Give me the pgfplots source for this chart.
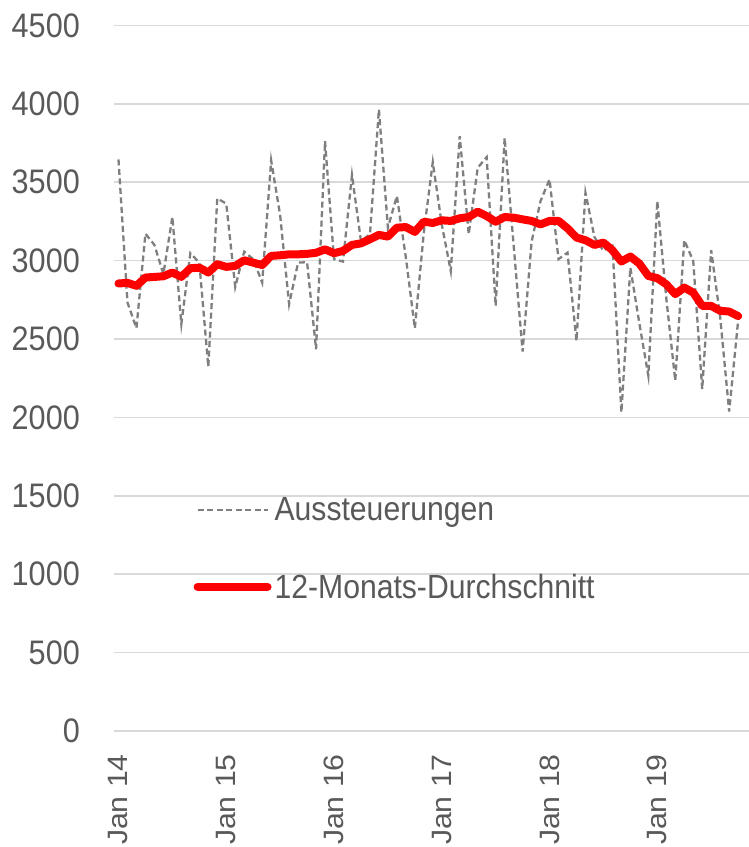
\documentclass[border=0pt]{standalone}
\usepackage{fontspec}
\setmainfont{Liberation Sans}[FakeStretch=0.9]
\newfontfamily\xlabfont{Liberation Sans}[FakeStretch=1.08]
\usepackage{pgfplots}
\pgfplotsset{compat=1.18}
\usepackage{pgfplotstable}
\definecolor{gridgray}{HTML}{D9D9D9}
\definecolor{textgray}{HTML}{595959}
\definecolor{dashgray}{HTML}{7F7F7F}
\pgfplotstableread{
i v
0 3645
1 2733
2 2569
3 3172
4 3100
5 2915
6 3278
7 2595
8 3047
9 2987
10 2323
11 3397
12 3363
13 2832
14 3057
15 3009
16 2860
17 3639
18 3290
19 2722
20 2987
21 2990
22 2435
23 3762
24 3009
25 2994
26 3546
27 3125
28 3168
29 3964
30 3210
31 3412
32 3020
33 2569
34 3180
35 3628
36 3230
37 2934
38 3794
39 3168
40 3592
41 3660
42 2711
43 3783
44 3100
45 2420
46 3120
47 3380
48 3518
49 3009
50 3051
51 2488
52 3433
53 3150
54 3062
55 3104
56 2032
57 2955
58 2600
59 2266
60 3380
61 2760
62 2234
63 3130
64 2998
65 2181
66 3066
67 2640
68 2038
69 2616
}\aussteuer
\pgfplotstableread{
i v
0 2854
1 2858
2 2839
3 2892
4 2896
5 2900
6 2924
7 2896
8 2951
9 2955
10 2924
11 2977
12 2960
13 2966
14 3002
15 2987
16 2972
17 3030
18 3034
19 3040
20 3040
21 3043
22 3050
23 3072
24 3047
25 3062
26 3100
27 3110
28 3136
29 3164
30 3153
31 3210
32 3214
33 3183
34 3248
35 3240
36 3257
37 3253
38 3270
39 3278
40 3312
41 3284
42 3248
43 3278
44 3274
45 3263
46 3253
47 3231
48 3253
49 3253
50 3206
51 3147
52 3130
53 3100
54 3115
55 3066
56 2994
57 3026
58 2981
59 2902
60 2888
61 2849
62 2786
63 2828
64 2796
65 2711
66 2711
67 2680
68 2675
69 2646
}\durchschnitt
\begin{document}
\begin{tikzpicture}
\useasboundingbox (-114pt,-116pt) rectangle (635pt,731pt);
\begin{axis}[
  at={(0pt,0pt)}, anchor=south west,
  scale only axis, width=635pt, height=705.6pt,
  xmin=-0.5, xmax=70.21, ymin=0, ymax=4500,
  axis line style={draw=none},
  ytick={0,500,...,4500},
  ymajorgrids,
  major grid style={draw=gridgray, line width=1.5pt},
  ytick style={draw=none},
  xtick={0,12,24,36,48,60},
  xticklabels={Jan 14,Jan 15,Jan 16,Jan 17,Jan 18,Jan 19},
  xtick style={draw=none},
  extra x ticks={-0.5,11.5,23.5,35.5,47.5,59.5},
  extra x tick labels={},
  extra x tick style={tick align=outside, major tick length=10pt,
    tick style={draw=gridgray, line width=1.5pt}},
  /pgf/number format/assume math mode=true,
  /pgf/number format/1000 sep={},
  ticklabel style={text=textgray},
  yticklabel style={font=\fontsize{34}{34}\selectfont, anchor=east, inner sep=0pt},
  xticklabel style={font=\xlabfont\fontsize{28}{28}\selectfont, rotate=90, anchor=east, inner sep=0pt},
  xticklabel shift=23pt,
  yticklabel shift=34pt,
  no markers,
  legend style={draw=none, fill=none, at={(axis description cs:0.125,0.2585)},
    anchor=west, font=\fontsize{33.5}{33.5}\selectfont, text=textgray,
    row sep=46pt, inner sep=0pt, nodes={inner sep=3pt}},
  legend cell align=left,
  legend image code/.code={\draw[#1] (0pt,0pt) -- (70pt,0pt);},
]
\addplot[draw=dashgray, line width=2.3pt, dash pattern=on 6pt off 3.5pt] table[x=i,y=v] {\aussteuer};
\addlegendentry{Aussteuerungen}
\addplot[draw=red, line width=8pt, line join=round, line cap=round] table[x=i,y=v] {\durchschnitt};
\addlegendentry{12-Monats-Durchschnitt}
\end{axis}
\end{tikzpicture}
\end{document}
